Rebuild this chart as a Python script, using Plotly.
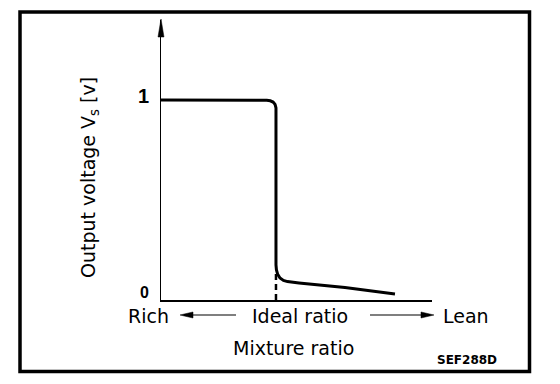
import plotly.graph_objects as go

# ---- data (mixture ratio in relative units, ideal ratio = 1.0; output voltage in V) ----
mixture_x = [0.0, 0.5, 0.8, 0.92, 0.95, 0.975, 0.992, 1.0, 1.0, 1.004, 1.015, 1.035,
             1.065, 1.1, 1.2, 1.4, 1.6, 1.8, 2.0, 2.035]
voltage_y = [1.0, 1.0, 1.0, 0.999, 0.996, 0.99, 0.978, 0.96, 0.175, 0.15, 0.128, 0.11,
             0.098, 0.092, 0.085, 0.075, 0.062, 0.047, 0.034, 0.03]
ideal_ratio = 1.0
ideal_marker_top = 0.15
tick_values = [0, 1]
tick_labels = ["0", "1"]
x_max = 2.357
y_max = 1.4

FONT = "DejaVu Sans, Liberation Sans, Arial, sans-serif"
TICKFONT = "Liberation Sans, Arial, sans-serif"

fig = go.Figure()

fig.add_trace(go.Scatter(
    x=mixture_x, y=voltage_y, mode="lines",
    line=dict(color="black", width=3), hoverinfo="skip", showlegend=False))

# dashed marker at ideal ratio
fig.add_trace(go.Scatter(
    x=[ideal_ratio, ideal_ratio], y=[0, ideal_marker_top], mode="lines",
    line=dict(color="black", width=2.5, dash="6px,4px"), hoverinfo="skip", showlegend=False))

fig.update_xaxes(range=[0, x_max], showgrid=False, zeroline=False, showticklabels=False,
                 showline=True, linecolor="black", linewidth=1.5, ticks="")
fig.update_yaxes(range=[0, y_max], showgrid=False, zeroline=False, showticklabels=False,
                 showline=True, linecolor="black", linewidth=1, ticks="")

W, H = 560, 384
L, R, T, B = 161, 128, 20, 84
pw, ph = W - L - R, H - T - B

def px(xp):
    return (xp - L) / pw

def py(yp):
    return (H - B - yp) / ph

annotations = []
# tick labels
for v, lab in zip(tick_values, tick_labels):
    annotations.append(dict(x=0, y=v, xref="x", yref="y", text="<b>%s</b>" % lab,
                            showarrow=False, xanchor="right", yanchor="middle", xshift=-10,
                            yshift=4 if v == 1 else 8,
                            font=dict(family=TICKFONT, size=20 if v == 1 else 16, color="black")))

def label(xp, yp, text, size, angle=0):
    return dict(x=px(xp), y=py(yp), xref="paper", yref="paper", text=text,
                textangle=angle, showarrow=False, xanchor="center", yanchor="middle",
                font=dict(family=FONT, size=size, color="black"))

annotations.append(label(89, 178, "Output voltage V<sub>s</sub> [v]", 19, -90))
annotations.append(label(148, 316, "Rich", 19))
annotations.append(label(300, 316, "Ideal ratio", 19))
annotations.append(label(466, 316, "Lean", 19))
annotations.append(label(293, 348, "Mixture ratio", 19))
annotations.append(label(467, 360, "<b>SEF288D</b>", 12))

def tri(p1, p2, p3):
    return dict(type="path", xref="paper", yref="paper",
                path="M %f,%f L %f,%f L %f,%f Z" % (px(p1[0]), py(p1[1]), px(p2[0]), py(p2[1]),
                                                   px(p3[0]), py(p3[1])),
                fillcolor="black", line=dict(color="black", width=0.5))

def hline(x0, x1, y, w=1.2):
    return dict(type="line", xref="paper", yref="paper", x0=px(x0), x1=px(x1),
                y0=py(y), y1=py(y), line=dict(color="black", width=w))

shapes = [
    dict(type="rect", xref="paper", yref="paper",
         x0=px(20), x1=px(529.5), y0=py(12), y1=py(371.5),
         line=dict(color="black", width=3.5)),
    # y axis arrow head
    tri((161, 19), (158, 37), (164, 37)),
    # left arrow (Rich)
    hline(188, 236, 315),
    tri((180, 315), (193, 312), (193, 318)),
    # right arrow (Lean)
    hline(370, 426, 315),
    tri((434, 315), (421, 312), (421, 318)),
]

fig.update_layout(
    width=W, height=H, margin=dict(l=L, r=R, t=T, b=B, pad=0),
    paper_bgcolor="white", plot_bgcolor="white",
    annotations=annotations, shapes=shapes, showlegend=False)

fig.write_html("out.html", config={"displayModeBar": False},
               post_script="document.body.style.margin='0';document.body.style.overflow='hidden';")
